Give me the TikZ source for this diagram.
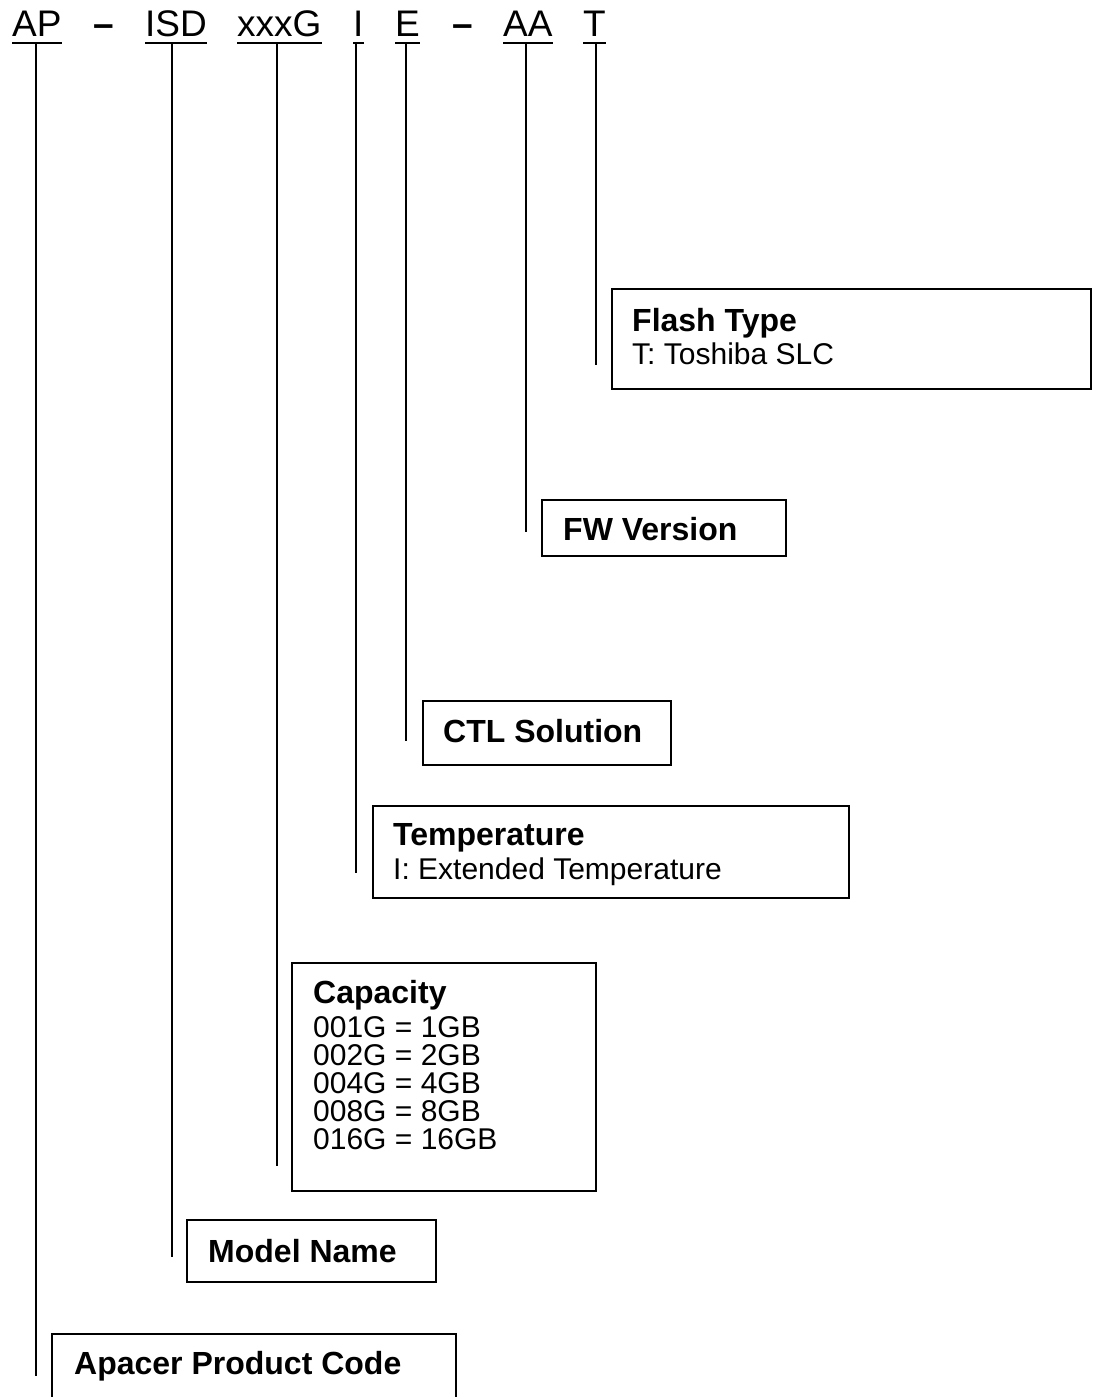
\documentclass[tikz,border=0pt]{standalone}
\usepackage{fontspec}
\setmainfont{Liberation Sans}
\begin{document}
\begin{tikzpicture}[x=1pt,y=-1pt,
  hdr/.style={anchor=base west,inner sep=0pt,font=\fontsize{37}{40}\selectfont},
  dashmark/.style={anchor=base west,inner sep=0pt,font=\fontsize{37}{40}\selectfont\bfseries},
  ul/.style={line width=2.6pt},
  lead/.style={line width=1.4pt},
  box/.style={draw,line width=1.6pt,anchor=north west,inner sep=0pt},
  head/.style={anchor=base west,inner sep=0pt,font=\fontsize{32}{34}\selectfont\bfseries},
  body/.style={anchor=base west,inner sep=0pt,font=\fontsize{30}{30}\selectfont}
]
\useasboundingbox[fill=white] (0,0) rectangle (1092,1397);

% header
\node[hdr] (ap) at (12,37) {AP};
\node[dashmark] (d1) at (93,37) {–};
\node[hdr] (isd) at (145,37) {ISD};
\node[hdr] (cap) at (237,37) {xxxG};
\node[hdr] (tmp) at (353,37) {I};
\node[hdr] (ctl) at (395,37) {E};
\node[dashmark] (d2) at (452,37) {–};
\node[hdr] (fw) at (503,37) {AA};
\node[hdr] (fl) at (583,37) {T};
\foreach \w in {ap,isd,cap,tmp,ctl,fw,fl}
  \draw[ul] ([yshift=-6pt]\w.base west) -- ([yshift=-6pt]\w.base east);

% boxes
\node[box,minimum width=479,minimum height=100] (flashbox) at (611,288) {};
\node[box,minimum width=244,minimum height=56] (fwbox) at (541,499) {};
\node[box,minimum width=248,minimum height=64] (ctlbox) at (422,700) {};
\node[box,minimum width=476,minimum height=92] (tmpbox) at (372,805) {};
\node[box,minimum width=304,minimum height=228] (capbox) at (291,962) {};
\node[box,minimum width=249,minimum height=62] (modbox) at (186,1219) {};
\node[box,minimum width=404,minimum height=90] (apbox) at (51,1333) {};

% texts
\node[head] (flashh) at (632,331) {Flash Type};
\node[body] (flashb) at (632,364) {T: Toshiba SLC};
\node[head] (fwh) at (563,540) {FW Version};
\node[head] (ctlh) at (443,742) {CTL Solution};
\node[head] (tmph) at (393,845) {Temperature};
\node[body] (tmpb) at (393,879) {I: Extended Temperature};
\node[head] (caph) at (313,1003) {Capacity};
\node[body] (cap1) at (313,1037) {001G = 1GB};
\node[body] (cap2) at (313,1065) {002G = 2GB};
\node[body] (cap3) at (313,1093) {004G = 4GB};
\node[body] (cap4) at (313,1121) {008G = 8GB};
\node[body] (cap5) at (313,1149) {016G = 16GB};
\node[head] (modh) at (208,1262) {Model Name};
\node[head] (aph) at (74,1374) {Apacer Product Code};

% leader coordinates
\coordinate (apT) at (36,43);   \coordinate (apE) at (36,1376);
\coordinate (isdT) at (172,43); \coordinate (isdE) at (172,1257);
\coordinate (capT) at (277,43); \coordinate (capE) at (277,1166);
\coordinate (tmpT) at (356,43); \coordinate (tmpE) at (356,873);
\coordinate (ctlT) at (406,43); \coordinate (ctlE) at (406,741);
\coordinate (fwT) at (526,43);  \coordinate (fwE) at (526,532);
\coordinate (flT) at (596,43);  \coordinate (flE) at (596,365);
\foreach \w in {ap,isd,cap,tmp,ctl,fw,fl}
  \draw[lead] (\w T) -- (\w E);
\end{tikzpicture}
\end{document}
